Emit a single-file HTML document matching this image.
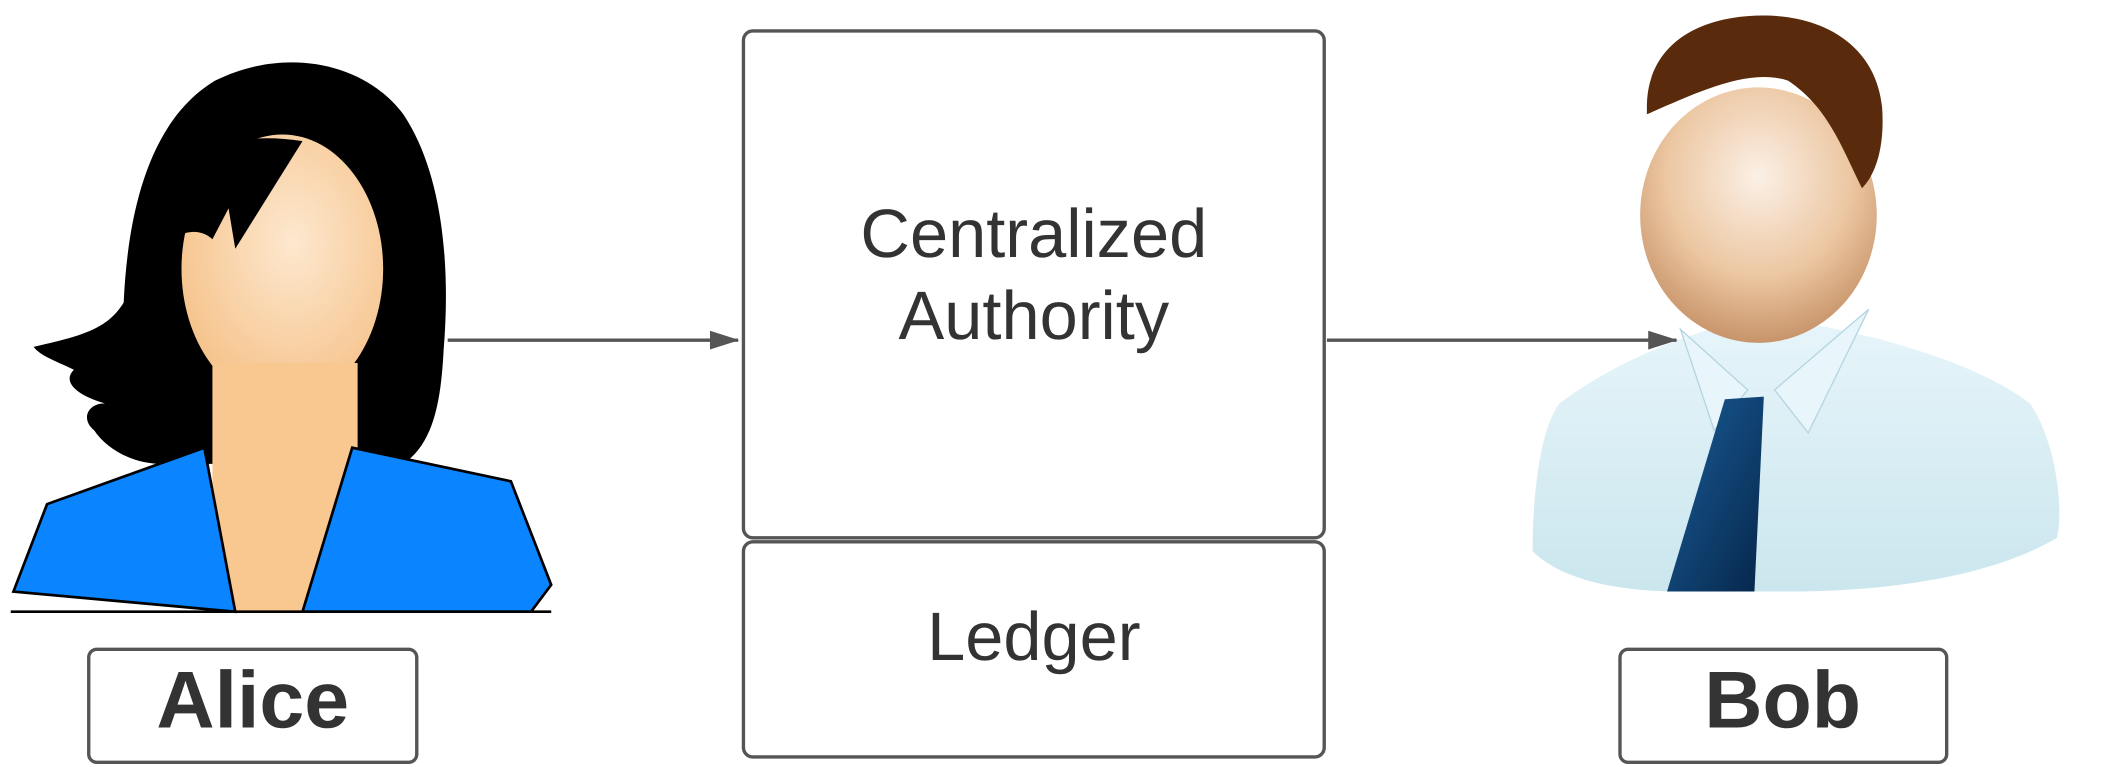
<!DOCTYPE html>
<html><head><meta charset="utf-8"><style>
html,body{margin:0;padding:0;background:#fff;}
svg{display:block}
text{font-family:"Liberation Sans",sans-serif;fill:#333;text-rendering:geometricPrecision}
</style></head><body>
<svg width="2108" height="767" viewBox="0 0 1568 570.5" preserveAspectRatio="none">
<defs>
<radialGradient id="af" cx="0.55" cy="0.4" r="0.6"><stop offset="0" stop-color="#fde8cf"/><stop offset="1" stop-color="#f6c48d"/></radialGradient>
<radialGradient id="bf" cx="0.5" cy="0.35" r="0.65"><stop offset="0" stop-color="#fbf0e6"/><stop offset="0.6" stop-color="#ecc7a2"/><stop offset="1" stop-color="#c8946a"/></radialGradient>
<linearGradient id="bs" x1="0" y1="0" x2="0" y2="1"><stop offset="0" stop-color="#e6f5fa"/><stop offset="1" stop-color="#cbe6ee"/></linearGradient>
<linearGradient id="bt" x1="0" y1="0" x2="1" y2="1"><stop offset="0" stop-color="#1a5e9a"/><stop offset="1" stop-color="#06264a"/></linearGradient>
<marker id="ar" markerWidth="22" markerHeight="14" refX="21" refY="7" orient="auto" markerUnits="userSpaceOnUse"><path d="M0,0 L22,7 L0,14 Z" fill="#555"/></marker>
</defs>

<!-- Alice -->
<path d="M25,258 C60,250 80,245 92,225 C95,160 110,90 160,60 C210,35 270,45 300,85 C330,130 335,200 330,260 C328,300 322,330 300,345 L120,345 C100,345 80,335 70,320 C60,312 65,300 78,300 C60,295 45,285 55,275 C45,270 30,265 25,258 Z" fill="#000"/>
<ellipse cx="210" cy="200" rx="75" ry="100" fill="url(#af)"/>
<path d="M118,185 C118,120 160,95 225,105 L175,185 L170,155 L158,178 C150,170 135,170 125,182 Z" fill="#000"/>
<rect x="158" y="270" width="108" height="185" fill="#f8c890"/>
<path d="M10,440 L35,375 L152,333 L175,455 Z" fill="#0a84ff" stroke="#000" stroke-width="2"/>
<path d="M225,455 L262,333 L380,358 L410,435 L395,455 Z" fill="#0a84ff" stroke="#000" stroke-width="2"/>
<line x1="8" y1="455" x2="410" y2="455" stroke="#000" stroke-width="2"/>

<!-- Bob -->
<path d="M1160,300 C1200,270 1250,250 1290,240 L1340,240 C1400,250 1470,270 1510,300 C1530,330 1535,380 1530,400 C1480,430 1400,440 1330,440 L1250,440 C1200,440 1160,430 1140,410 C1140,370 1145,320 1160,300 Z" fill="url(#bs)"/>
<ellipse cx="1308" cy="160" rx="88" ry="95" fill="url(#bf)"/>
<path d="M1250,245 L1300,290 L1275,320 Z M1390,230 L1320,290 L1345,322 Z" fill="#e8f6fb" stroke="#b5d5e0"/>
<path d="M1283,297 L1312,295 L1305,440 L1240,440 Z" fill="url(#bt)"/>
<path d="M1225,80 C1225,35 1260,15 1300,12 C1350,8 1395,30 1400,80 C1402,110 1395,130 1385,140 C1370,110 1360,80 1330,60 C1300,50 1260,70 1225,85 Z" fill="#5a2a0c"/>

<!-- Arrows -->
<line x1="333" y1="253" x2="549" y2="253" stroke="#555" stroke-width="2.5" marker-end="url(#ar)"/>
<line x1="987" y1="253" x2="1247" y2="253" stroke="#555" stroke-width="2.5" marker-end="url(#ar)"/>

<!-- Boxes -->
<rect x="553" y="23" width="432" height="377" rx="7" fill="#fff" stroke="#555" stroke-width="2.5"/>
<rect x="553" y="403" width="432" height="160" rx="7" fill="#fff" stroke="#555" stroke-width="2.5"/>
<text x="769" y="191" font-size="51" text-anchor="middle">Centralized</text>
<text x="769" y="252" font-size="51" text-anchor="middle">Authority</text>
<text x="769" y="491" font-size="51" text-anchor="middle">Ledger</text>

<rect x="66" y="483" width="244" height="84" rx="6" fill="#fff" stroke="#555" stroke-width="2.5"/>
<text x="188" y="541" font-size="60" font-weight="bold" text-anchor="middle">Alice</text>
<rect x="1205" y="483" width="243" height="84" rx="6" fill="#fff" stroke="#555" stroke-width="2.5"/>
<text x="1326" y="541" font-size="60" font-weight="bold" text-anchor="middle">Bob</text>
</svg>
</body></html>
